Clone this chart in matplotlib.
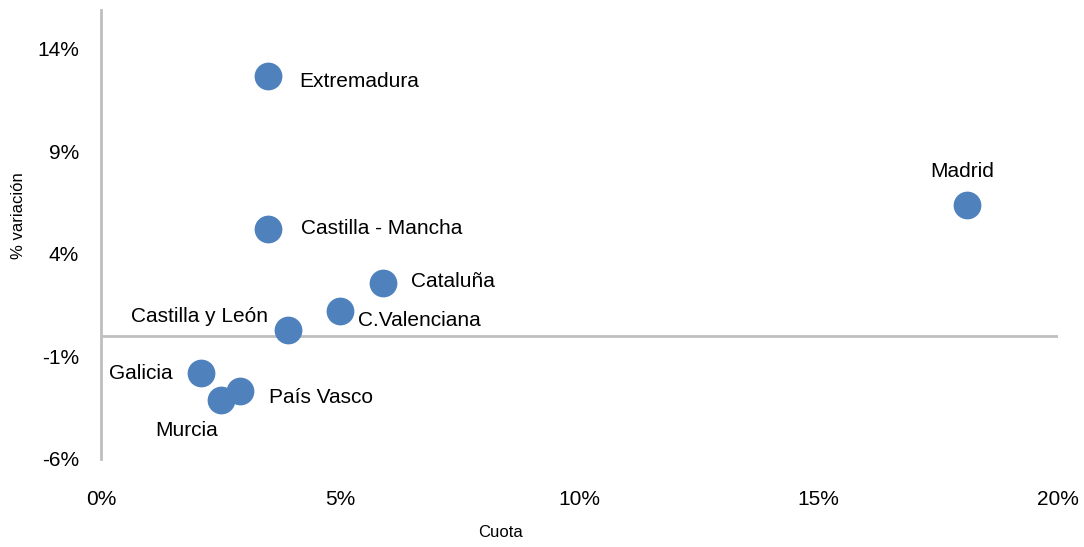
import matplotlib
matplotlib.use('Agg')
import matplotlib.pyplot as plt
from matplotlib.ticker import FuncFormatter

plt.rcParams['font.family'] = ['Liberation Sans Narrow', 'Liberation Sans', 'DejaVu Sans']

# Datos: cuota (%) y % variación por comunidad
regiones = ['Extremadura', 'Madrid', 'Castilla - Mancha', 'Cataluña', 'C.Valenciana',
            'Castilla y León', 'Galicia', 'País Vasco', 'Murcia']
cuota = [3.5, 18.1, 3.5, 5.9, 5.0, 3.9, 2.1, 2.9, 2.5]
variacion = [12.7, 6.4, 5.2, 2.6, 1.2, 0.3, -1.8, -2.7, -3.1]

# posición de cada etiqueta respecto al punto (pixeles) y alineación
offsets = {
    'Extremadura': (31, -6, 'left'),
    'Madrid': (-5, 33, 'center'),
    'Castilla - Mancha': (33, 1, 'left'),
    'Cataluña': (28, 1, 'left'),
    'C.Valenciana': (18, -9, 'left'),
    'Castilla y León': (-20, 13, 'right'),
    'Galicia': (-29, -1, 'right'),
    'País Vasco': (29, -6, 'left'),
    'Murcia': (-34, -31, 'center'),
}

azul = '#4F81BD'
gris = '#BFBFBF'

fig = plt.figure(figsize=(10.84, 5.47), dpi=100)
ax = fig.add_axes([101/1084, 88/547, 957/1084, 449/547])

ax.scatter(cuota, variacion, s=400, color=azul, zorder=3, linewidths=0)

for r, x, y in zip(regiones, cuota, variacion):
    dx, dy, ha = offsets[r]
    ax.annotate(r, (x, y), xytext=(dx, dy), textcoords='offset pixels',
                ha=ha, va='center', fontsize=15, color='black')

ax.set_xlim(0, 20)
ax.set_ylim(-6, 15.9)
ax.set_xticks([0, 5, 10, 15, 20])
ax.set_yticks([-6, -1, 4, 9, 14])
ax.xaxis.set_major_formatter(FuncFormatter(lambda v, p: f'{v:.0f}%'))
ax.yaxis.set_major_formatter(FuncFormatter(lambda v, p: f'{v:.0f}%'))
ax.tick_params(axis='both', length=0, labelsize=15)
ax.tick_params(axis='x', pad=22)
ax.tick_params(axis='y', pad=16)

for s in ['top', 'right', 'bottom']:
    ax.spines[s].set_visible(False)
ax.spines['left'].set_color(gris)
ax.spines['left'].set_linewidth(2)
ax.axhline(0, color=gris, linewidth=2, zorder=1)

ax.set_xlabel('Cuota', fontsize=12)
ax.set_ylabel('% variación', fontsize=12)
ax.xaxis.set_label_coords(0.417, -0.148)
ax.yaxis.set_label_coords(-0.078, 0.543)

fig.savefig('out.png', dpi=100)
